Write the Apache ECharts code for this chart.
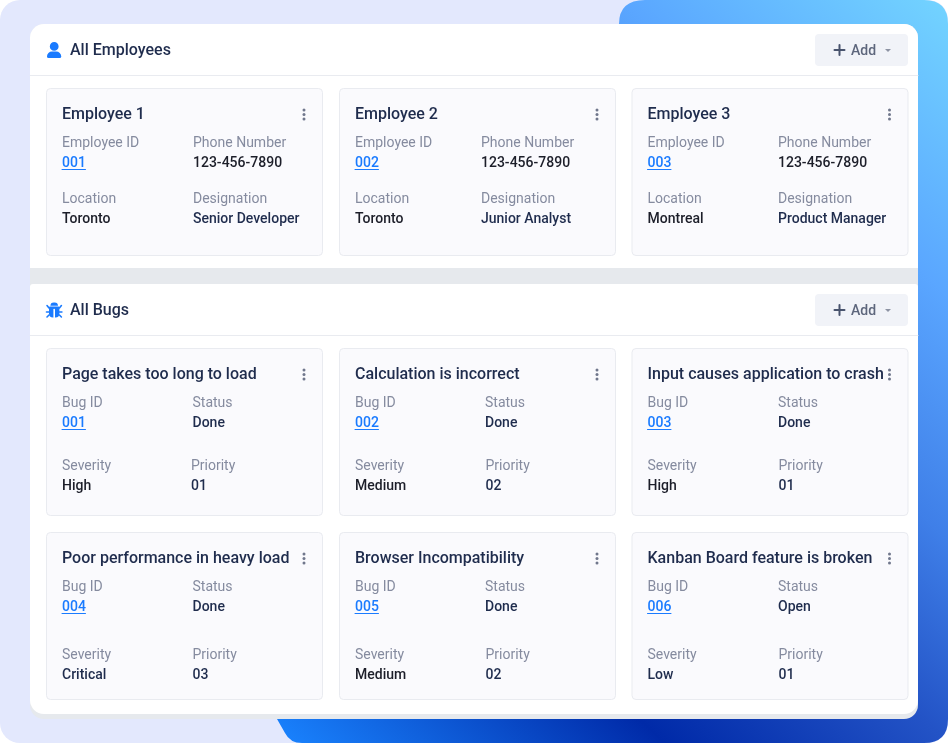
<!DOCTYPE html>
<html>
<head>
<meta charset="utf-8">
<style>
html, body { margin: 0; padding: 0; background: #fff; }
#main { width: 948px; height: 743px; }
</style>
<script src="https://cdn.jsdelivr.net/npm/echarts@6/dist/echarts.min.js"></script>
</head>
<body>
<div id="main"></div>
<script>
var employeeNames = ['Employee 1', 'Employee 2', 'Employee 3'];
var employeeIds = ['001', '002', '003'];
var employeePhones = ['123-456-7890', '123-456-7890', '123-456-7890'];
var employeeLocations = ['Toronto', 'Toronto', 'Montreal'];
var employeeDesignations = ['Senior Developer', 'Junior Analyst', 'Product Manager'];

var bugTitles = ['Page takes too long to load', 'Calculation is incorrect', 'Input causes application to crash',
	'Poor performance in heavy load', 'Browser Incompatibility', 'Kanban Board feature is broken'];
var bugIds = ['001', '002', '003', '004', '005', '006'];
var bugStatus = ['Done', 'Done', 'Done', 'Done', 'Done', 'Open'];
var bugSeverity = ['High', 'Medium', 'High', 'Critical', 'Medium', 'Low'];
var bugPriority = ['01', '02', '01', '03', '02', '01'];

var NAVY = '#1f2c4d', GREY = '#858b9f', DARK = '#1c1e29', BLUE = '#1a7bff', BORDER = '#e9ebf0';
var FONT = 'Roboto';
var items = [];

// 右侧渐变底板
echarts.graphic.registerShape('backdrop', echarts.graphic.extendShape({
	buildPath: function (ctx) {
		ctx.moveTo(619, 24);
		ctx.quadraticCurveTo(619, 0, 645, 0);
		ctx.lineTo(924, 0);
		ctx.quadraticCurveTo(948, 0, 948, 24);
		ctx.lineTo(948, 719);
		ctx.quadraticCurveTo(948, 743, 924, 743);
		ctx.lineTo(302, 743);
		ctx.quadraticCurveTo(290, 743, 285, 733);
		ctx.lineTo(277, 719);
		ctx.closePath();
	}
}));

function box(x, y, w, h, r, fill, stroke) {
	items.push({type: 'rect', shape: {x: x, y: y, width: w, height: h, r: r},
		style: {fill: fill, stroke: stroke || null, lineWidth: stroke ? 1 : 0}});
}
function line(x1, y1, x2, y2, color, width) {
	items.push({type: 'line', shape: {x1: x1, y1: y1, x2: x2, y2: y2},
		style: {stroke: color, lineWidth: width || 1, lineCap: 'round'}});
}
function dot(x, y, r, fill) {
	items.push({type: 'circle', shape: {cx: x, cy: y, r: r}, style: {fill: fill}});
}
function label(x, y, text, size, weight, fill) {
	items.push({type: 'text', style: {x: x, y: y + 1, text: text, fontFamily: FONT, fontSize: size,
		fontWeight: weight, fill: fill, verticalAlign: 'middle', align: 'left'}});
}

// 卡片
function card(x, y, title, rows) {
	box(x + 0.5, y + 0.5, 276, 167, 4, '#fafafd', BORDER);
	label(x + 16, y + 25.5, title, 16, 500, NAVY);
	var dotX = x + 258;
	dot(dotX, y + 22, 1.5, '#70778c');
	dot(dotX, y + 26.5, 1.5, '#70778c');
	dot(dotX, y + 31, 1.5, '#70778c');
	rows.forEach(function (r) {
		label(r.x, r.y, r.name, 14, 400, GREY);
		if (r.link) {
			label(r.x, r.y + 20, r.value, 14, 500, BLUE);
			line(r.x, r.y + 27.5, r.x + 23.5, r.y + 27.5, BLUE, 1);
		} else {
			label(r.x, r.y + 20, r.value, 14, 500, r.color || DARK);
		}
	});
}

function header(y, title) {
	label(70, y + 26, title, 16, 500, NAVY);
	line(30, y + 51.5, 918, y + 51.5, BORDER, 1);
	box(815, y + 10, 93, 32, 4, '#f1f3f8');
	line(834.5, y + 26, 844.5, y + 26, '#48536d', 2);
	line(839.5, y + 21, 839.5, y + 31, '#48536d', 2);
	label(851, y + 26, 'Add', 14, 500, '#5d667c');
	items.push({type: 'polygon', shape: {points: [[885, y + 25], [891, y + 25], [888, y + 28]]},
		style: {fill: '#8d93a3'}});
}

// 背景
box(0, 0, 948, 743, 20, '#e3e8fd');
items.push({type: 'backdrop', shape: {},
	style: {fill: new echarts.graphic.LinearGradient(948, 0, 277, 743, [
		{offset: 0, color: '#73d4ff'},
		{offset: 0.22, color: '#5aa6ff'},
		{offset: 0.4, color: '#3f7fe8'},
		{offset: 0.55, color: '#2353c6'},
		{offset: 0.74, color: '#002aa8'},
		{offset: 1, color: '#1a84ff'}
	], true)}});
box(30, 24, 888, 695, 14, '#e6e9ed');
box(30, 24, 888, 244, [14, 14, 0, 0], '#fff');
box(30, 284, 888, 430, [3, 3, 14, 14], '#fff');

// 人员图标
dot(54.2, 46.4, 4.4, BLUE);
box(47, 51.5, 14.2, 6.6, [5, 5, 1.5, 1.5], BLUE);
header(24, 'All Employees');

// 虫子图标
box(49, 306.6, 10.4, 11, [1, 1, 4, 4], BLUE);
box(50.4, 302.4, 7.6, 3.4, [3.4, 3.4, 0, 0], BLUE);
line(54.2, 309.5, 54.2, 317.5, '#fff', 1.6);
[[49, 308, 47, 305.5], [49, 312, 46.5, 312], [49, 315, 47, 317]].forEach(function (p) {
	line(p[0], p[1], p[2], p[3], BLUE, 1.6);
	line(108.4 - p[0], p[1], 108.4 - p[2], p[3], BLUE, 1.6);
});
header(284, 'All Bugs');

var cardX = [46, 339, 631.5];
var empCol2 = [193, 481, 778];
employeeNames.forEach(function (name, i) {
	var x = cardX[i], tx = x + 16;
	card(x, 88, name, [
		{x: tx, y: 142, name: 'Employee ID', value: employeeIds[i], link: true},
		{x: empCol2[i], y: 142, name: 'Phone Number', value: employeePhones[i]},
		{x: tx, y: 198, name: 'Location', value: employeeLocations[i]},
		{x: empCol2[i], y: 198, name: 'Designation', value: employeeDesignations[i], color: NAVY}
	]);
});

var statusX = [192.5, 485, 778];
var priorityX = [191, 485.5, 778.5, 192.5, 485.5, 778.5];
var bugRowY = [348, 532];
bugTitles.forEach(function (title, i) {
	var col = i % 3, row = Math.floor(i / 3), x = cardX[col], tx = x + 16, y = bugRowY[row];
	var sevY = row === 0 ? 465 : 654;
	var sevColor = (bugSeverity[i] === 'Critical' || bugSeverity[i] === 'Low') ? NAVY : DARK;
	card(x, y, title, [
		{x: tx, y: y + 54, name: 'Bug ID', value: bugIds[i], link: true},
		{x: statusX[col], y: y + 54, name: 'Status', value: bugStatus[i], color: NAVY},
		{x: tx, y: sevY, name: 'Severity', value: bugSeverity[i], color: sevColor},
		{x: priorityX[i], y: sevY, name: 'Priority', value: bugPriority[i], color: NAVY}
	]);
});

var myChart = echarts.init(document.getElementById('main'), null, {renderer: 'canvas'});
myChart.setOption({animation: false, graphic: {elements: items}});
</script>
</body>
</html>
